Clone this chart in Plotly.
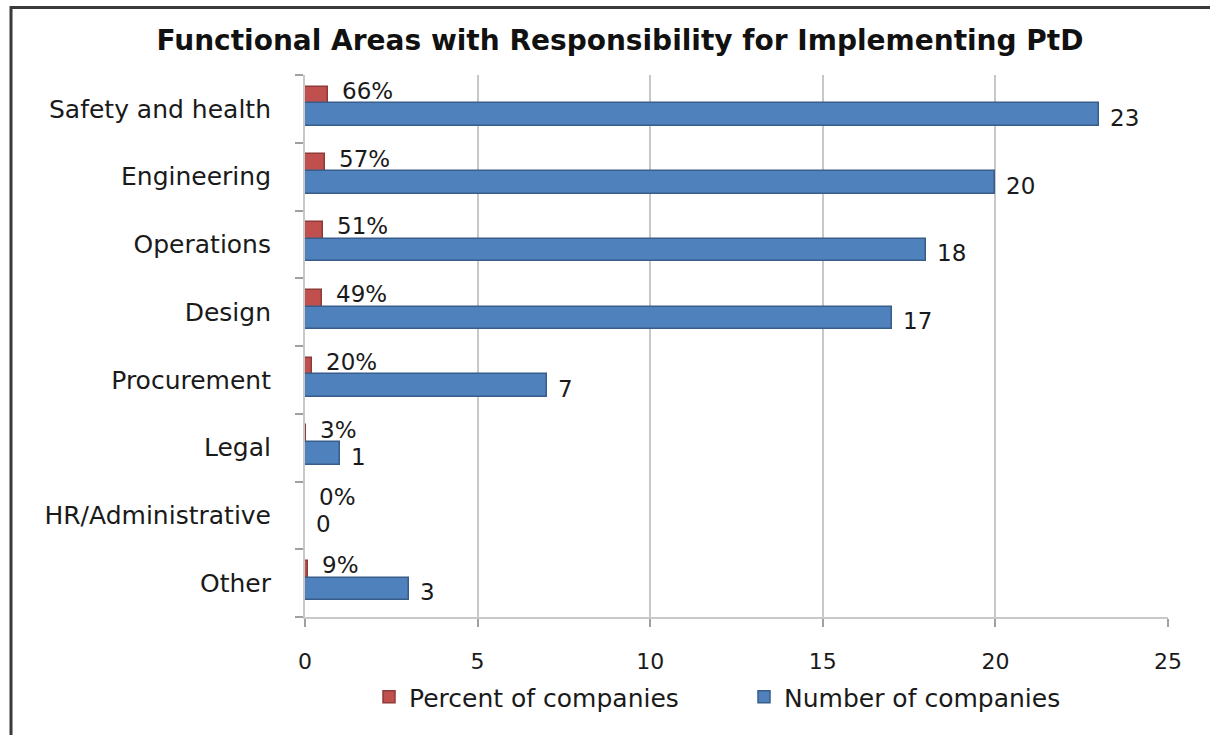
import plotly.graph_objects as go

categories = ["Safety and health", "Engineering", "Operations", "Design",
              "Procurement", "Legal", "HR/Administrative", "Other"]
number_of_companies = [23, 20, 18, 17, 7, 1, 0, 3]
percent_of_companies = [0.66, 0.57, 0.51, 0.49, 0.20, 0.03, 0.00, 0.09]
x_ticks = [0, 5, 10, 15, 20, 25]

RED = "#C0504D"
RED_DARK = "#8E3A38"
BLUE = "#4F81BD"
BLUE_DARK = "#385D8A"
FONT = "DejaVu Sans"
TXT = "#1a1a1a"

pct_text = [f"{round(v * 100)}%" for v in percent_of_companies]
num_text = [str(v) for v in number_of_companies]

fig = go.Figure()
fig.add_trace(go.Bar(
    name="Percent of companies",
    y=categories, x=percent_of_companies, orientation="h",
    marker=dict(color=RED, line=dict(color=RED_DARK, width=1.5)),
    width=0.27, offset=0.06,
))
fig.add_trace(go.Bar(
    name="Number of companies",
    y=categories, x=number_of_companies, orientation="h",
    marker=dict(color=BLUE, line=dict(color=BLUE_DARK, width=1.5)),
    width=0.33, offset=-0.25,
))

# data labels positioned from the data values through the axes
for cat, v, t in zip(categories, percent_of_companies, pct_text):
    fig.add_annotation(x=v, y=cat, xref="x", yref="y", text=t, showarrow=False,
                       xanchor="left", yanchor="middle", xshift=12, yshift=18,
                       font=dict(family=FONT, size=23, color=TXT))
for cat, v, t in zip(categories, number_of_companies, num_text):
    fig.add_annotation(x=v, y=cat, xref="x", yref="y", text=t, showarrow=False,
                       xanchor="left", yanchor="middle", xshift=9, yshift=-9,
                       font=dict(family=FONT, size=23, color=TXT))

W, H = 1210, 735
L, R, T, B = 305, 42, 75, 118
pw, ph = W - L - R, H - T - B

def px_x(x):
    return (x - L) / pw

def px_y(y):
    return (H - B - y) / ph

fig.update_layout(
    width=W, height=H,
    margin=dict(l=L, r=R, t=T, b=B, autoexpand=False),
    paper_bgcolor="white", plot_bgcolor="white",
    barmode="overlay",
    title=dict(text="<b>Functional Areas with Responsibility for Implementing PtD</b>",
               x=620 / W, xanchor="center", xref="container", y=1 - 40 / H, yanchor="middle",
               yref="container",
               font=dict(family="DejaVu Sans", size=28, color="#111")),
    legend=dict(orientation="h", xref="container", x=369 / W, xanchor="left",
                yref="container", y=1 - 697 / H, yanchor="middle", bgcolor="rgba(0,0,0,0)",
                font=dict(family=FONT, size=25, color=TXT),
                traceorder="normal", itemwidth=30,
                entrywidth=330, entrywidthmode="pixels"),
    showlegend=True,
    bargap=0,
)
fig.update_xaxes(range=[0, 25], tickvals=x_ticks, showgrid=True, gridcolor="#c8c8c8",
                 gridwidth=2, zeroline=False, showline=True, linecolor="#c8c8c8", linewidth=2,
                 ticks="outside", ticklen=8, tickcolor="#a0a0a0", tickwidth=2,
                 ticklabelstandoff=16, automargin=False,
                 tickfont=dict(family=FONT, size=22, color=TXT))
fig.update_yaxes(categoryorder="array", categoryarray=categories[::-1],
                 showgrid=False, showline=True, linecolor="#c8c8c8", linewidth=2,
                 ticks="outside", ticklen=8, tickcolor="#a0a0a0", tickwidth=2,
                 tickson="boundaries", ticklabelstandoff=27, automargin=False,
                 tickfont=dict(family=FONT, size=25, color=TXT))

border = dict(color="#3a3a3a", width=3)
fig.add_shape(type="line", xref="paper", yref="paper",
              x0=px_x(11), x1=px_x(W + 5), y0=px_y(7.5), y1=px_y(7.5), line=border)
fig.add_shape(type="line", xref="paper", yref="paper",
              x0=px_x(11), x1=px_x(11), y0=px_y(6), y1=px_y(H + 5), line=border)

fig.write_html("out.html")
